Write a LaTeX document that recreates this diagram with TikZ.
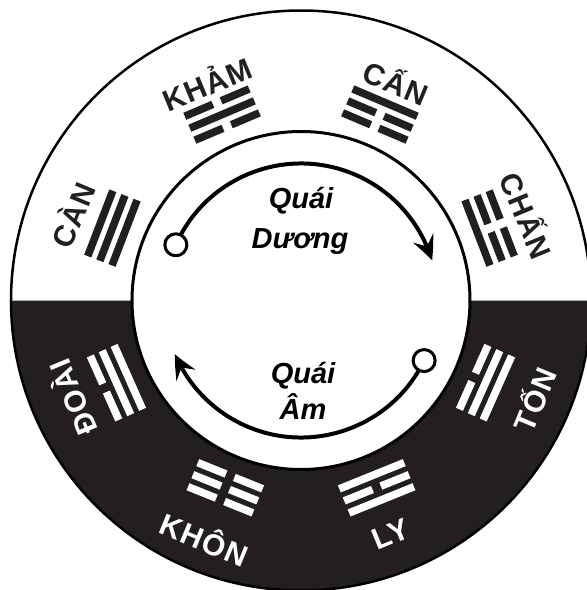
\documentclass[tikz,border=0pt]{standalone}
\usepackage{fontspec}
\setmainfont{Liberation Sans}
\newfontfamily\guafont{Liberation Sans}[LetterSpace=4]
\usetikzlibrary{arrows.meta,bending}

\definecolor{ink}{RGB}{35,31,32}

% one trigram: angle, colour, inner line, middle line, outer line (1 = solid, 0 = broken)
\newcommand{\gua}[5]{%
  \begin{scope}[shift={(#1:202)},rotate=#1-90]
    \foreach \yao [count=\k from -1] in {#3,#4,#5}{
      \ifnum\yao=1
        \fill[#2] (-35,\k*13-3.8) rectangle (35,\k*13+3.8);
      \else
        \fill[#2] (-35,\k*13-3.8) rectangle (-4.5,\k*13+3.8);
        \fill[#2] (4.5,\k*13-3.8) rectangle (35,\k*13+3.8);
      \fi
    }
  \end{scope}}

\begin{document}
\begin{tikzpicture}[x=1pt,y=1pt,line join=round,
  guaname/.style={inner sep=0pt,font=\fontsize{30}{34}\guafont\bfseries},
  darkname/.style={guaname,text=ink},
  lightname/.style={guaname,text=white},
  quai/.style={inner sep=0pt,anchor=base,font=\fontsize{29}{34}\selectfont\bfseries\itshape},
  flow/.style={line width=4pt,-{Stealth[length=24pt,width=22pt,inset=9pt,bend]}},
  ring/.style={circle,draw,fill=white,line width=3pt,minimum size=22pt,inner sep=0pt}]

\useasboundingbox (-301,-289.5) rectangle (286,300.5);
\clip (-301,-289.5) rectangle (286,300.5);

% outer ring, dark lower half
\fill[ink] (-290,0) arc[start angle=180,end angle=360,radius=290] -- cycle;
\draw[line width=2.5pt] (0,0) circle (290);

% inner disc
\draw[line width=3pt,fill=white] (0,0) circle (169);

% trigrams, upper half
\gua{159}{ink}{1}{1}{1}
\gua{113}{ink}{0}{1}{0}
\gua{67}{ink}{0}{0}{1}
\gua{21}{ink}{1}{0}{0}

% trigrams, lower half
\gua{-24}{white}{0}{1}{1}
\gua{-68}{white}{1}{0}{1}
\gua{-112}{white}{0}{0}{0}
\gua{-156}{white}{1}{1}{0}

% names
\node[darkname,rotate=67.5] (can) at (159.5:245) {CÀN};
\node[darkname,rotate=22.5] (kham) at (113.5:238) {KHẢM};
\node[darkname,rotate=-22.5] (cann) at (66.5:239) {CẤN};
\node[darkname,rotate=-67.5] (chan) at (20.7:243) {CHẤN};
\node[lightname,rotate=67.5] (ton) at (-23:252) {TỐN};
\node[lightname,rotate=22.5] (ly) at (-69:250) {LY};
\node[lightname,rotate=-22.5] (khon) at (-112:256) {KHÔN};
\node[lightname,rotate=112.5] (doai) at (-157:250) {ĐOÀI};

% yang flow
\node[quai] (yang1) at (0,92.5) {Quái};
\node[quai] (yang2) at (-1,52.5) {Dương};
\coordinate (yangend) at (17:137);
\draw[flow] (156:137) arc[start angle=156,end angle=17,radius=137];
\node[ring] (yangstart) at (156:137) {};

% yin flow
\node[quai] (yin1) at (2,-82.5) {Quái};
\node[quai] (yin2) at (2,-118.5) {Âm};
\coordinate (yinend) at (-157:137);
\draw[flow] (-26:137) arc[start angle=-26,end angle=-157,radius=137];
\node[ring] (yinstart) at (-26:137) {};

\end{tikzpicture}
\end{document}
